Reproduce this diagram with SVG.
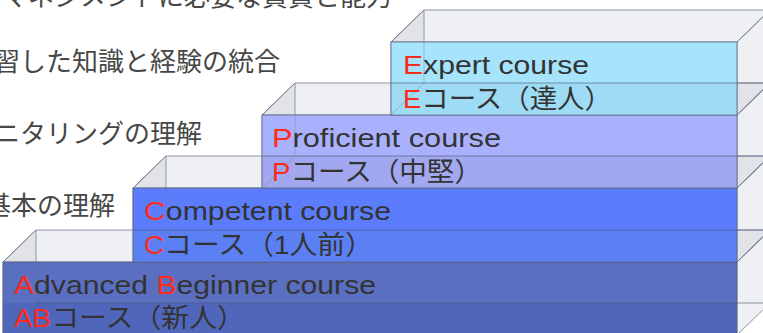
<svg xmlns="http://www.w3.org/2000/svg" width="763" height="333" viewBox="0 0 763 333">
<style>
.face{fill:#969bb0;fill-opacity:0.15;stroke:#6b7389;stroke-width:1;stroke-opacity:0.75}
.hid{fill:none;stroke:#6b7389;stroke-width:1;stroke-opacity:0.35}
.div{fill:none;stroke:#4d5573;stroke-width:1;stroke-opacity:0.6}
.front{fill:none;stroke:#5a6078;stroke-width:1;stroke-opacity:0.75}
.en{font-family:'Liberation Sans','Noto Sans CJK JP',sans-serif;font-size:26px;fill:#333333}
.jp{font-family:'Liberation Sans','Noto Sans CJK JP',sans-serif;font-size:26.5px;fill:#333333}
.r{fill:#ff2a1a}
.lbl{font-family:'Noto Sans CJK JP',sans-serif;font-size:26px;fill:#474747}
</style>
<rect x="0" y="0" width="763" height="333" fill="#ffffff"/>
<g id="labels">
<text class="lbl" x="392" y="6" text-anchor="end">マネジメントに必要な資質と能力</text>
<text class="lbl" x="280" y="71" text-anchor="end">習した知識と経験の統合</text>
<text class="lbl" x="202" y="143" text-anchor="end">ニタリングの理解</text>
<text class="lbl" x="115" y="215" text-anchor="end">基本の理解</text>
</g>
<g id="box-ab">
<polygon class="face" points="3,335 36,303 36,230 3,262"/>
<polygon class="face" points="3,262 36,230 770,230 737,262"/>
<polygon class="face" points="737,262 770,230 770,303 737,335"/>
<rect x="3" y="262" width="734" height="41" fill="#5a6fc0"/>
<rect x="3" y="303" width="734" height="32" fill="#4f66bb"/>
<rect class="front" x="3" y="262" width="734" height="73"/>
<path class="hid" d="M36,262V303M3,335L36,303"/>
<path class="div" d="M36,303H770"/>
<text class="en" x="14" y="294" textLength="362" lengthAdjust="spacingAndGlyphs"><tspan class="r">A</tspan>dvanced <tspan class="r">B</tspan>eginner course</text>
<text class="jp" x="14" y="327" textLength="231" lengthAdjust="spacingAndGlyphs"><tspan class="r">AB</tspan>コース（新人）</text>
</g>
<g id="box-c">
<polygon class="face" points="133,262 166,230 166,156 133,188"/>
<polygon class="face" points="133,188 166,156 770,156 737,188"/>
<polygon class="face" points="737,188 770,156 770,230 737,262"/>
<rect x="133" y="188" width="604" height="42" fill="#5b7dfc"/>
<rect x="133" y="230" width="604" height="32" fill="#5b80f4"/>
<rect class="front" x="133" y="188" width="604" height="74"/>
<path class="hid" d="M166,188V230M133,262L166,230"/>
<path class="div" d="M133,230H770"/>
<text class="en" x="144" y="220" textLength="247" lengthAdjust="spacingAndGlyphs"><tspan class="r">C</tspan>ompetent course</text>
<text class="jp" x="144" y="254" textLength="229" lengthAdjust="spacingAndGlyphs"><tspan class="r">C</tspan>コース（1人前）</text>
</g>
<g id="box-p">
<polygon class="face" points="262,188 295,156 295,83 262,115"/>
<polygon class="face" points="262,115 295,83 770,83 737,115"/>
<polygon class="face" points="737,115 770,83 770,156 737,188"/>
<rect x="262" y="115" width="475" height="41" fill="#a9b1fd"/>
<rect x="262" y="156" width="475" height="32" fill="#a1a8ef"/>
<rect class="front" x="262" y="115" width="475" height="73"/>
<path class="hid" d="M295,115V156M262,188L295,156"/>
<path class="div" d="M262,156H770"/>
<text class="en" x="272" y="147" textLength="229" lengthAdjust="spacingAndGlyphs"><tspan class="r">P</tspan>roficient course</text>
<text class="jp" x="272" y="181" textLength="210" lengthAdjust="spacingAndGlyphs"><tspan class="r">P</tspan>コース（中堅）</text>
</g>
<g id="box-e">
<polygon class="face" points="391,115 424,83 424,10 391,42"/>
<polygon class="face" points="391,42 424,10 770,10 737,42"/>
<polygon class="face" points="737,42 770,10 770,83 737,115"/>
<rect x="391" y="42" width="346" height="41" fill="#a6e4fc"/>
<rect x="391" y="83" width="346" height="32" fill="#9edbf4"/>
<rect class="front" x="391" y="42" width="346" height="73"/>
<path class="hid" d="M424,42V83M391,115L424,83"/>
<path class="div" d="M391,83H770"/>
<text class="en" x="403" y="74" textLength="186" lengthAdjust="spacingAndGlyphs"><tspan class="r">E</tspan>xpert course</text>
<text class="jp" x="403" y="108" textLength="209" lengthAdjust="spacingAndGlyphs"><tspan class="r">E</tspan>コース（達人）</text>
</g>
</svg>
